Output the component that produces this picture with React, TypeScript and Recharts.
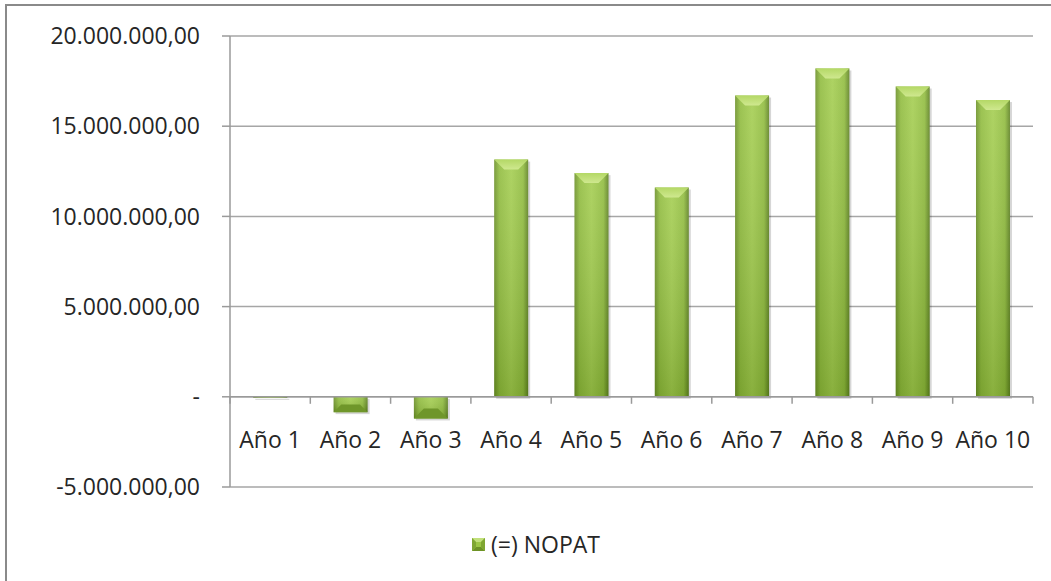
import React from 'react'
import { BarChart, Bar, XAxis, YAxis, CartesianGrid, ReferenceLine } from 'recharts'

const years = ['Año 1', 'Año 2', 'Año 3', 'Año 4', 'Año 5', 'Año 6', 'Año 7', 'Año 8', 'Año 9', 'Año 10']
const nopat = [-60000, -850000, -1200000, 13150000, 12400000, 11600000, 16700000, 18200000, 17200000, 16450000]
const yTicks = [-5000000, 0, 5000000, 10000000, 15000000, 20000000]

const data = years.map((year, i) => ({ year, nopat: nopat[i] }))

const W = 1051
const H = 581
const M = { top: 36, right: 18, bottom: 93, left: 0 }
const X_AXIS_H = 1
const Y_AXIS_W = 230
const font = '"Open Sans", sans-serif'
const fs = 23

function fmt(v: number) {
  if (v === 0) return '-'
  const s = Math.abs(v).toFixed(0).replace(/\B(?=(\d{3})+(?!\d))/g, '.')
  return (v < 0 ? '-' : '') + s + ',00'
}

const plotH = H - M.top - M.bottom - X_AXIS_H
const zeroOffset = (plotH * 5000000) / 25000000
const band = (W - M.right - Y_AXIS_W) / years.length

function XTick(props: any) {
  const { x, index, payload } = props
  const zeroY = M.top + plotH - zeroOffset
  return (
    <g>
      <line x1={x + band / 2} x2={x + band / 2} y1={zeroY} y2={zeroY + 7} stroke="#9a9a9a" strokeWidth={1.5} />
      {index === 0 && (
        <line x1={x - band / 2} x2={x - band / 2} y1={zeroY} y2={zeroY + 7} stroke="#9a9a9a" strokeWidth={1.5} />
      )}
      <text x={x} y={zeroY + 51} textAnchor="middle" fontFamily={font} fontSize={fs} fill="#262626">
        {payload.value}
      </text>
    </g>
  )
}

function BevelBar(props: any) {
  const { x, y, width, height, value } = props
  if (height === undefined) return null
  const top = height >= 0 ? y : y + height
  const h = Math.abs(height)
  const b = Math.min(10, h / 2)
  const neg = value < 0
  return (
    <g>
      <rect x={x + 2} y={top + 2} width={width} height={h} fill="rgba(0,0,0,0.16)" />
      <rect x={x} y={top} width={width} height={h} fill="url(#barGrad)" />
      <rect x={x} y={top} width={width} height={h} fill="url(#barShade)" />
      {h > 3 && !neg && (
        <polygon
          points={`${x},${top} ${x + width},${top} ${x + width - b},${top + b} ${x + b},${top + b}`}
          fill="url(#bevelGrad)"
        />
      )}
      {h > 3 && neg && (
        <polygon
          points={`${x},${top + h} ${x + width},${top + h} ${x + width - b},${top + h - b} ${x + b},${top + h - b}`}
          fill="#6f962a"
        />
      )}
    </g>
  )
}

function LegendBox() {
  return (
    <div
      style={{
        position: 'absolute',
        left: 472,
        top: 528,
        display: 'flex',
        alignItems: 'center',
        fontFamily: font,
        fontSize: fs,
        color: '#262626',
      }}
    >
      <svg width={13} height={13} style={{ marginRight: 6 }}>
        <rect x={0} y={0} width={13} height={13} fill="#9bc644" />
        <polygon points="0,0 13,0 9,4 4,4" fill="#c2e07c" />
        <polygon points="0,13 13,13 9,9 4,9" fill="#6d9226" />
        <polygon points="0,0 4,4 4,9 0,13" fill="#7fa632" />
        <polygon points="13,0 9,4 9,9 13,13" fill="#7fa632" />
      </svg>
      <span>(=) NOPAT</span>
    </div>
  )
}

export default function App() {
  return (
    <div style={{ position: 'absolute', left: 0, top: 0, width: W, height: H, overflow: 'hidden', background: '#fff' }}>
      <div
        style={{
          position: 'absolute',
          left: 5,
          top: 4,
          width: W + 20,
          height: H + 20,
          border: '2px solid #8a8a8a',
          boxSizing: 'border-box',
        }}
      />
      <div style={{ position: 'absolute', left: 0, top: 0 }}>
        <BarChart width={W} height={H} data={data} margin={M} barCategoryGap="29%">
          <defs>
            <linearGradient id="barGrad" x1="0" y1="0" x2="1" y2="0">
              <stop offset="0%" stopColor="#6a8f26" />
              <stop offset="15%" stopColor="#8fbb3c" />
              <stop offset="50%" stopColor="#a3cd4e" />
              <stop offset="85%" stopColor="#8fbb3c" />
              <stop offset="100%" stopColor="#5c801f" />
            </linearGradient>
            <linearGradient id="barShade" x1="0" y1="0" x2="0" y2="1">
              <stop offset="0%" stopColor="#ffffff" stopOpacity={0.12} />
              <stop offset="100%" stopColor="#2f4a06" stopOpacity={0.22} />
            </linearGradient>
            <linearGradient id="bevelGrad" x1="0" y1="0" x2="0" y2="1">
              <stop offset="0%" stopColor="#b4d866" />
              <stop offset="100%" stopColor="#cfe88f" />
            </linearGradient>
          </defs>
          <CartesianGrid vertical={false} stroke="#a6a6a6" strokeWidth={1.5} />
          <XAxis
            dataKey="year"
            height={X_AXIS_H}
            axisLine={false}
            tickLine={false}
            tick={<XTick />}
            interval={0}
          />
          <YAxis
            width={Y_AXIS_W}
            domain={[-5000000, 20000000]}
            ticks={yTicks}
            tickFormatter={fmt}
            axisLine={{ stroke: '#9a9a9a', strokeWidth: 1.5 }}
            tickLine={{ stroke: '#9a9a9a', strokeWidth: 1.5 }}
            tickSize={8}
            tickMargin={22}
            tick={{ fontFamily: font, fontSize: fs, fill: '#262626' }}
          />
          <ReferenceLine y={0} stroke="#9a9a9a" strokeWidth={1.5} />
          <Bar dataKey="nopat" name="(=) NOPAT" shape={<BevelBar />} isAnimationActive={false} />
        </BarChart>
      </div>
      <LegendBox />
    </div>
  )
}
